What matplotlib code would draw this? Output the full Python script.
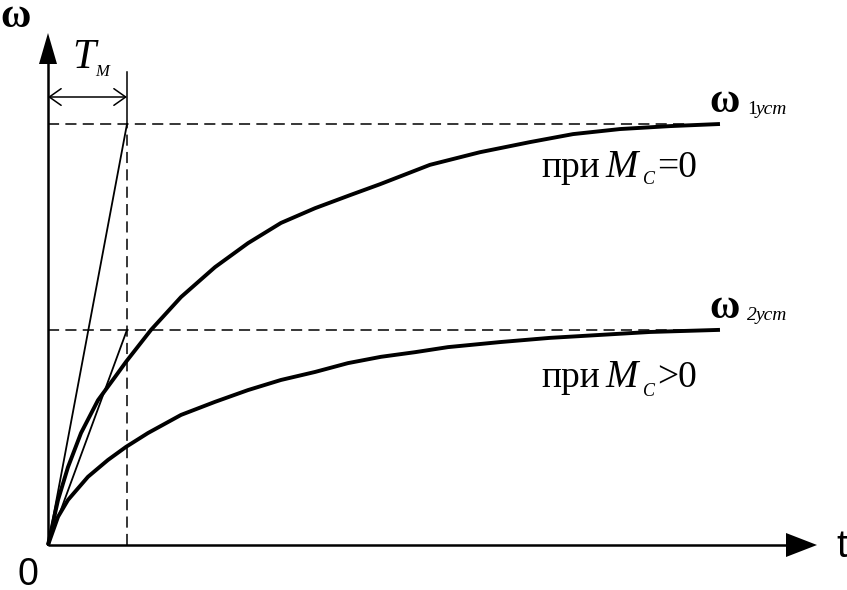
import numpy as np
import matplotlib.pyplot as plt

plt.rcParams['lines.scale_dashes'] = False

# curves: t in units of T_M, omega in units of omega_1ust
t1 = [0, 0.127, 0.253, 0.418, 0.633, 0.848, 0.987, 1.304, 1.684, 2.114, 2.532,
      2.949, 3.380, 3.823, 4.203, 4.835, 5.468, 6.101, 6.646, 7.241, 7.873, 8.506]
w1 = [0, 0.107, 0.185, 0.266, 0.344, 0.399, 0.435, 0.511, 0.589, 0.660, 0.717,
      0.765, 0.800, 0.831, 0.857, 0.903, 0.933, 0.957, 0.976, 0.988, 0.995, 1.0]

t2 = [0, 0.127, 0.253, 0.506, 0.759, 0.987, 1.266, 1.684, 2.114, 2.532, 2.949,
      3.380, 3.797, 4.215, 4.646, 5.063, 5.722, 6.354, 6.987, 7.620, 8.506]
w2 = [0, 0.067, 0.107, 0.162, 0.202, 0.233, 0.266, 0.309, 0.340, 0.368, 0.392,
      0.411, 0.432, 0.447, 0.458, 0.470, 0.482, 0.492, 0.499, 0.506, 0.511]

T_M = 1.0
w1_ust = 1.0
w2_ust = 0.511

# pixel layout of the original drawing
W, H = 847, 590
X0, Y0 = 48, 545      # origin in pixels
PX_T = 79.0           # pixels per T_M
PX_W = 421.0          # pixels per omega_1ust


def X(px):
    return (px - X0) / PX_T


def Y(py):
    return (Y0 - py) / PX_W


fig = plt.figure(figsize=(W / 100, H / 100), dpi=100)
ax = fig.add_axes([0, 0, 1, 1])
ax.set_xlim(X(0), X(W))
ax.set_ylim(Y(H), Y(0))
ax.axis('off')

k = 'black'
dash = (0, (8, 4.5))

# axes with filled arrow heads
ax.plot([0, X(790)], [0, 0], color=k, lw=1.8, solid_capstyle='butt')
ax.plot([0, 0], [0, Y(60)], color=k, lw=1.8, solid_capstyle='butt')
ax.fill([X(786), X(817), X(786)], [Y(533), Y(545), Y(557)], color=k, lw=0)
ax.fill([X(39), X(48), X(57)], [Y(64), Y(33), Y(64)], color=k, lw=0)

# steady-state levels and T_M marker
ax.plot([0, X(690)], [w1_ust, w1_ust], color=k, lw=1.1, ls=dash)
ax.plot([0, X(690)], [w2_ust, w2_ust], color=k, lw=1.1, ls=dash)
ax.plot([T_M, T_M], [0, w1_ust], color=k, lw=1.1, ls=dash)
ax.plot([T_M, T_M], [w1_ust, Y(72)], color=k, lw=1.1)
ax.annotate('', xy=(0, Y(97)), xytext=(T_M, Y(97)),
            arrowprops=dict(arrowstyle='<->,head_length=0.85,head_width=0.6',
                            color=k, lw=1.1, shrinkA=0, shrinkB=0))

# tangents from origin
ax.plot([0, T_M], [0, w1_ust], color=k, lw=1.3)
ax.plot([0, T_M], [0, w2_ust], color=k, lw=1.3)

# transients
ax.plot(t1, w1, color=k, lw=2.8, solid_joinstyle='round', solid_capstyle='butt')
ax.plot(t2, w2, color=k, lw=2.8, solid_joinstyle='round', solid_capstyle='butt')

serif = 'Liberation Serif'
sans = 'Liberation Sans'

ax.text(X(16), Y(27), 'ω', family=serif, fontsize=30, weight='bold',
        ha='center', va='baseline')
ax.text(X(72), Y(68), 'T', family=serif, style='italic', fontsize=30, va='baseline')
ax.text(X(95), Y(76), 'M', family=serif, style='italic', fontsize=12, va='baseline')
ax.text(X(836), Y(557), 't', family=sans, fontsize=28, va='baseline')
ax.text(X(28), Y(585), '0', family=sans, fontsize=27, ha='center', va='baseline')

for base, sub, wy, py, sy in [('1', 'уст', 112, 177, 184), ('2', 'уст', 318, 387, 396)]:
    ax.text(X(709), Y(wy), 'ω', family=serif, fontsize=30, weight='bold',
            va='baseline')
    ax.text(X(747), Y(wy + 2), base, family=serif, fontsize=14, va='baseline',
            style='normal' if base == '1' else 'italic')
    ax.text(X(756), Y(wy + 2), sub, family=serif, style='italic', fontsize=14,
            va='baseline')
    ax.text(X(541), Y(py), 'при', family=serif, fontsize=27, va='baseline')
    ax.text(X(605), Y(py), 'M', family=serif, style='italic', fontsize=28,
            va='baseline')
    ax.text(X(643), Y(sy), 'C', family=serif, style='italic', fontsize=13,
            va='baseline')
    ax.text(X(657), Y(py), '=0' if base == '1' else '>0', family=serif,
            fontsize=27, va='baseline')

fig.savefig('out.png', dpi=100)
